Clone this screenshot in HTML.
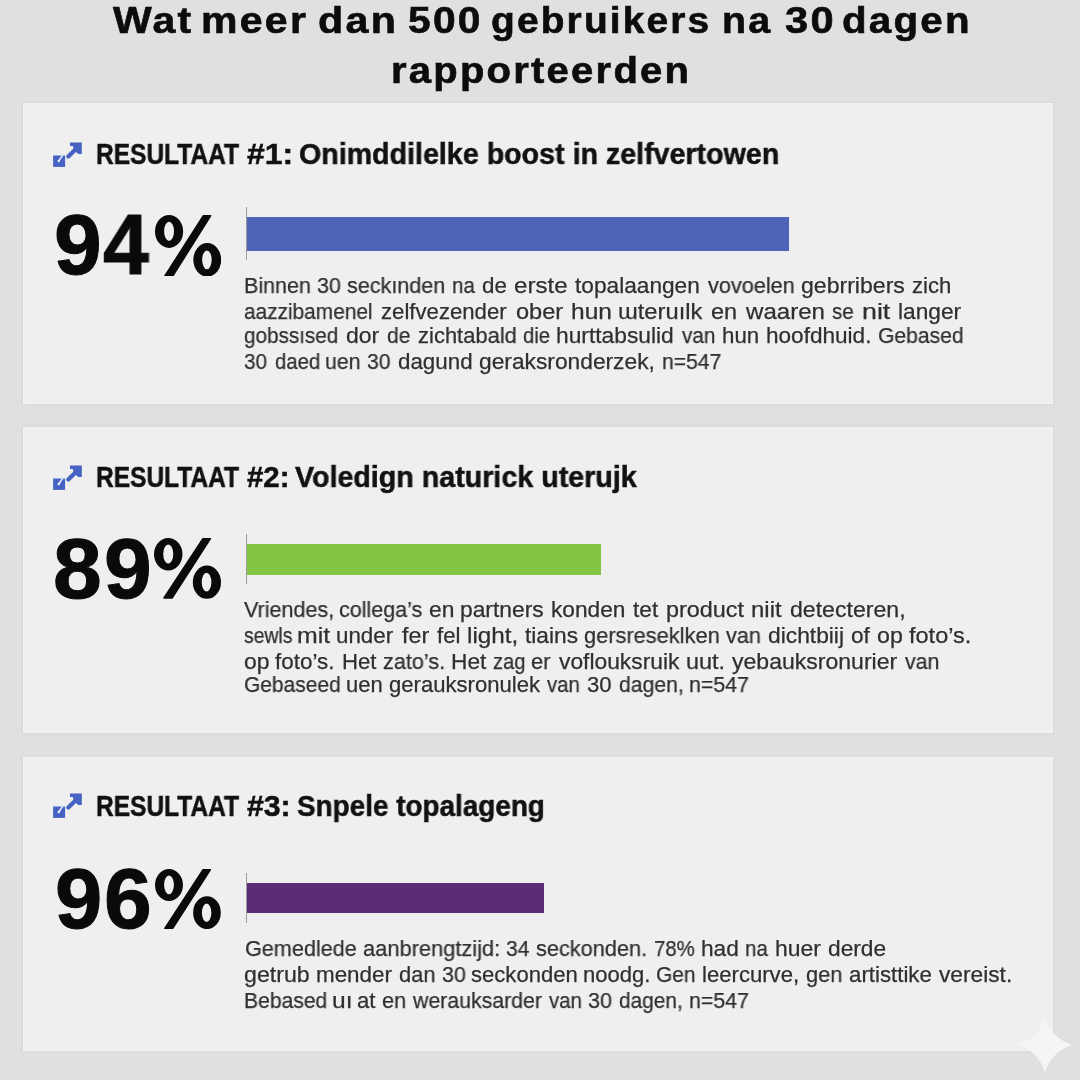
<!DOCTYPE html>
<html><head><meta charset="utf-8"><style>
html,body{margin:0;padding:0}
body{width:1080px;height:1080px;overflow:hidden;position:relative;background:#e0e0e0;
font-family:"Liberation Sans",sans-serif}
.t{position:absolute;white-space:nowrap;transform-origin:0 0;will-change:transform}
.card{position:absolute;left:23px;width:1030px;background:#efefef;box-shadow:0 0 2px 1px rgba(0,0,0,0.035),inset 0 0 2px 1px rgba(255,255,255,0.3)}
.ic{position:absolute}
.dv{position:absolute;left:245.5px;width:1.6px;background:#9c9c9c}
.bar{position:absolute;left:247px}
.pc{position:absolute}
.sp{position:absolute;left:1016.5px;top:1016.5px}
</style></head><body>
<div class="t" style="left:112.50px;top:2.93px;font-size:36px;line-height:36px;font-weight:700;color:#0c0c0c;transform:scaleX(1.1398);-webkit-text-stroke:0.6px #0c0c0c;letter-spacing:2.0px;">Wat</div>
<div class="t" style="left:201.33px;top:2.93px;font-size:36px;line-height:36px;font-weight:700;color:#0c0c0c;transform:scaleX(1.1395);-webkit-text-stroke:0.6px #0c0c0c;letter-spacing:2.0px;">meer</div>
<div class="t" style="left:317.75px;top:2.93px;font-size:36px;line-height:36px;font-weight:700;color:#0c0c0c;transform:scaleX(1.1446);-webkit-text-stroke:0.6px #0c0c0c;letter-spacing:2.0px;">dan</div>
<div class="t" style="left:408.18px;top:2.93px;font-size:36px;line-height:36px;font-weight:700;color:#0c0c0c;transform:scaleX(1.1316);-webkit-text-stroke:0.6px #0c0c0c;letter-spacing:2.0px;">500</div>
<div class="t" style="left:491.24px;top:2.93px;font-size:36px;line-height:36px;font-weight:700;color:#0c0c0c;transform:scaleX(1.0800);-webkit-text-stroke:0.6px #0c0c0c;letter-spacing:2.0px;">gebruikers</div>
<div class="t" style="left:721.84px;top:2.93px;font-size:36px;line-height:36px;font-weight:700;color:#0c0c0c;transform:scaleX(1.0939);-webkit-text-stroke:0.6px #0c0c0c;letter-spacing:2.0px;">na</div>
<div class="t" style="left:784.56px;top:2.93px;font-size:36px;line-height:36px;font-weight:700;color:#0c0c0c;transform:scaleX(1.1560);-webkit-text-stroke:0.6px #0c0c0c;letter-spacing:2.0px;">30</div>
<div class="t" style="left:842.29px;top:2.93px;font-size:36px;line-height:36px;font-weight:700;color:#0c0c0c;transform:scaleX(1.1194);-webkit-text-stroke:0.6px #0c0c0c;letter-spacing:2.0px;">dagen</div>
<div class="t" style="left:391.40px;top:53.13px;font-size:36px;line-height:36px;font-weight:700;color:#0c0c0c;transform:scaleX(1.1116);-webkit-text-stroke:0.6px #0c0c0c;letter-spacing:2.0px;">rapporteerden</div>
<div class="card" style="top:103px;height:301px"></div>
<svg class="ic" style="left:53px;top:142px" width="34" height="30" viewBox="0 0 34 30"><rect x="0.1" y="13.5" width="12" height="11.4" fill="#4662c2"/><path d="M9.6 13.3 L5.6 19.2" stroke="#dde6fa" stroke-width="1.7" stroke-linecap="round"/><circle cx="5.8" cy="19" r="1.2" fill="#eef2fc"/><path d="M15.3 14.6 L23 7" stroke="#4662c2" stroke-width="4.2" stroke-linecap="round"/><path d="M17 0.5 L28.8 0.5 L28.8 12.1 L25.4 12.1 L21 8.5 L19.8 4 L17 4 Z" fill="#4662c2"/></svg>
<div class="t" style="left:95.91px;top:139.95px;font-size:29px;line-height:29px;font-weight:700;color:#111;transform:scaleX(0.8448);-webkit-text-stroke:0.5px #111;">RESULTAAT</div>
<div class="t" style="left:246.52px;top:139.95px;font-size:29px;line-height:29px;font-weight:700;color:#111;transform:scaleX(1.0993);-webkit-text-stroke:0.5px #111;">#1:</div>
<div class="t" style="left:299.46px;top:139.95px;font-size:29px;line-height:29px;font-weight:700;color:#111;transform:scaleX(0.9869);-webkit-text-stroke:0.5px #111;">Onimddilelke boost in zelfvertowen</div>
<div class="t" style="left:53.70px;top:202.45px;font-size:85px;line-height:85px;font-weight:700;color:#0a0a0a;transform:scaleX(1.0091);-webkit-text-stroke:1px #0a0a0a;">9</div>
<div class="t" style="left:102.96px;top:202.45px;font-size:85px;line-height:85px;font-weight:700;color:#0a0a0a;transform:scaleX(0.9698);-webkit-text-stroke:1px #0a0a0a;">4</div>
<svg class="pc" style="left:154.6px;top:214.6px" width="66.20" height="61.70" viewBox="0 0 66.1 61.9" preserveAspectRatio="none"><path fill="#0a0a0a" fill-rule="evenodd" d="M0 16.5 A14.05 16.5 0 1 0 28.1 16.5 A14.05 16.5 0 1 0 0 16.5 Z M9.1 16.35 A4.95 9.65 0 1 0 19 16.35 A4.95 9.65 0 1 0 9.1 16.35 Z"/><path fill="#0a0a0a" fill-rule="evenodd" d="M38.3 45 A13.9 16.9 0 1 0 66.1 45 A13.9 16.9 0 1 0 38.3 45 Z M47.1 45 A4.75 9.5 0 1 0 56.6 45 A4.75 9.5 0 1 0 47.1 45 Z"/><path fill="#0a0a0a" stroke="#0a0a0a" stroke-width="1.6" stroke-linejoin="round" d="M9.9 61.1 L17.8 61.1 L55.5 0.8 L48.3 0.8 Z"/></svg>
<div class="dv" style="top:207px;height:53px"></div>
<div class="bar" style="top:217px;height:34px;width:542px;background:#4e64b8"></div>
<div class="t" style="left:243.88px;top:275.08px;font-size:22px;line-height:22px;color:#2f2f2f;-webkit-text-stroke:0.25px #2f2f2f;transform:scaleX(0.9764);">Binnen</div>
<div class="t" style="left:316.94px;top:275.08px;font-size:22px;line-height:22px;color:#2f2f2f;-webkit-text-stroke:0.25px #2f2f2f;transform:scaleX(0.9750);">30</div>
<div class="t" style="left:346.95px;top:275.08px;font-size:22px;line-height:22px;color:#2f2f2f;-webkit-text-stroke:0.25px #2f2f2f;transform:scaleX(0.9804);">seckınden</div>
<div class="t" style="left:451.56px;top:275.08px;font-size:22px;line-height:22px;color:#2f2f2f;-webkit-text-stroke:0.25px #2f2f2f;transform:scaleX(0.9352);">na</div>
<div class="t" style="left:481.91px;top:275.08px;font-size:22px;line-height:22px;color:#2f2f2f;-webkit-text-stroke:0.25px #2f2f2f;transform:scaleX(1.0155);">de</div>
<div class="t" style="left:513.94px;top:275.08px;font-size:22px;line-height:22px;color:#2f2f2f;-webkit-text-stroke:0.25px #2f2f2f;transform:scaleX(1.0943);">erste</div>
<div class="t" style="left:574.96px;top:275.08px;font-size:22px;line-height:22px;color:#2f2f2f;-webkit-text-stroke:0.25px #2f2f2f;transform:scaleX(1.0306);">topalaangen</div>
<div class="t" style="left:707.89px;top:275.08px;font-size:22px;line-height:22px;color:#2f2f2f;-webkit-text-stroke:0.25px #2f2f2f;transform:scaleX(0.9854);">vovoelen</div>
<div class="t" style="left:801.28px;top:275.08px;font-size:22px;line-height:22px;color:#2f2f2f;-webkit-text-stroke:0.25px #2f2f2f;transform:scaleX(1.0488);">gebrribers</div>
<div class="t" style="left:912.42px;top:275.08px;font-size:22px;line-height:22px;color:#2f2f2f;-webkit-text-stroke:0.25px #2f2f2f;transform:scaleX(1.0044);">zich</div>
<div class="t" style="left:244.17px;top:300.58px;font-size:22px;line-height:22px;color:#2f2f2f;-webkit-text-stroke:0.25px #2f2f2f;transform:scaleX(0.9466);">aazzibamenel</div>
<div class="t" style="left:380.51px;top:300.58px;font-size:22px;line-height:22px;color:#2f2f2f;-webkit-text-stroke:0.25px #2f2f2f;transform:scaleX(1.0071);">zelfvezender</div>
<div class="t" style="left:515.96px;top:300.58px;font-size:22px;line-height:22px;color:#2f2f2f;-webkit-text-stroke:0.25px #2f2f2f;transform:scaleX(1.0727);">ober</div>
<div class="t" style="left:570.78px;top:300.58px;font-size:22px;line-height:22px;color:#2f2f2f;-webkit-text-stroke:0.25px #2f2f2f;transform:scaleX(1.1141);">hun</div>
<div class="t" style="left:618.16px;top:300.58px;font-size:22px;line-height:22px;color:#2f2f2f;-webkit-text-stroke:0.25px #2f2f2f;transform:scaleX(1.0784);">ɯteruılk</div>
<div class="t" style="left:711.26px;top:300.58px;font-size:22px;line-height:22px;color:#2f2f2f;-webkit-text-stroke:0.25px #2f2f2f;transform:scaleX(1.0674);">en</div>
<div class="t" style="left:745.60px;top:300.58px;font-size:22px;line-height:22px;color:#2f2f2f;-webkit-text-stroke:0.25px #2f2f2f;transform:scaleX(1.0943);">waaren</div>
<div class="t" style="left:832.18px;top:300.58px;font-size:22px;line-height:22px;color:#2f2f2f;-webkit-text-stroke:0.25px #2f2f2f;transform:scaleX(0.9323);">se</div>
<div class="t" style="left:861.56px;top:300.58px;font-size:22px;line-height:22px;color:#2f2f2f;-webkit-text-stroke:0.25px #2f2f2f;transform:scaleX(1.2183);">nit</div>
<div class="t" style="left:897.92px;top:300.58px;font-size:22px;line-height:22px;color:#2f2f2f;-webkit-text-stroke:0.25px #2f2f2f;transform:scaleX(1.0322);">langer</div>
<div class="t" style="left:244.17px;top:324.98px;font-size:22px;line-height:22px;color:#2f2f2f;-webkit-text-stroke:0.25px #2f2f2f;transform:scaleX(0.9407);">gobssısed</div>
<div class="t" style="left:346.08px;top:324.98px;font-size:22px;line-height:22px;color:#2f2f2f;-webkit-text-stroke:0.25px #2f2f2f;transform:scaleX(1.0469);">dor</div>
<div class="t" style="left:387.46px;top:324.98px;font-size:22px;line-height:22px;color:#2f2f2f;-webkit-text-stroke:0.25px #2f2f2f;transform:scaleX(0.9579);">de</div>
<div class="t" style="left:418.02px;top:324.98px;font-size:22px;line-height:22px;color:#2f2f2f;-webkit-text-stroke:0.25px #2f2f2f;transform:scaleX(0.9980);">zichtabald</div>
<div class="t" style="left:522.69px;top:324.98px;font-size:22px;line-height:22px;color:#2f2f2f;-webkit-text-stroke:0.25px #2f2f2f;transform:scaleX(0.9236);">die</div>
<div class="t" style="left:556.31px;top:324.98px;font-size:22px;line-height:22px;color:#2f2f2f;-webkit-text-stroke:0.25px #2f2f2f;transform:scaleX(1.0355);">hurttabsulid</div>
<div class="t" style="left:681.60px;top:324.98px;font-size:22px;line-height:22px;color:#2f2f2f;-webkit-text-stroke:0.25px #2f2f2f;transform:scaleX(0.9416);">van</div>
<div class="t" style="left:721.74px;top:324.98px;font-size:22px;line-height:22px;color:#2f2f2f;-webkit-text-stroke:0.25px #2f2f2f;transform:scaleX(1.0131);">hun</div>
<div class="t" style="left:765.52px;top:324.98px;font-size:22px;line-height:22px;color:#2f2f2f;-webkit-text-stroke:0.25px #2f2f2f;transform:scaleX(1.0260);">hoofdhuid.</div>
<div class="t" style="left:877.54px;top:324.98px;font-size:22px;line-height:22px;color:#2f2f2f;-webkit-text-stroke:0.25px #2f2f2f;transform:scaleX(0.9598);">Gebased</div>
<div class="t" style="left:244.17px;top:350.58px;font-size:22px;line-height:22px;color:#2f2f2f;-webkit-text-stroke:0.25px #2f2f2f;transform:scaleX(0.9398);">30</div>
<div class="t" style="left:275.29px;top:350.58px;font-size:22px;line-height:22px;color:#2f2f2f;-webkit-text-stroke:0.25px #2f2f2f;transform:scaleX(0.9241);">daed</div>
<div class="t" style="left:325.42px;top:350.58px;font-size:22px;line-height:22px;color:#2f2f2f;-webkit-text-stroke:0.25px #2f2f2f;transform:scaleX(0.9654);">uen</div>
<div class="t" style="left:366.95px;top:350.58px;font-size:22px;line-height:22px;color:#2f2f2f;-webkit-text-stroke:0.25px #2f2f2f;transform:scaleX(0.9618);">30</div>
<div class="t" style="left:397.91px;top:350.58px;font-size:22px;line-height:22px;color:#2f2f2f;-webkit-text-stroke:0.25px #2f2f2f;transform:scaleX(1.0160);">dagund</div>
<div class="t" style="left:479.09px;top:350.58px;font-size:22px;line-height:22px;color:#2f2f2f;-webkit-text-stroke:0.25px #2f2f2f;transform:scaleX(1.0347);">geraksronderzek,</div>
<div class="t" style="left:661.53px;top:350.58px;font-size:22px;line-height:22px;color:#2f2f2f;-webkit-text-stroke:0.25px #2f2f2f;transform:scaleX(0.9614);">n=547</div>
<div class="card" style="top:427px;height:306px"></div>
<svg class="ic" style="left:53px;top:465px" width="34" height="30" viewBox="0 0 34 30"><rect x="0.1" y="13.5" width="12" height="11.4" fill="#4662c2"/><path d="M9.6 13.3 L5.6 19.2" stroke="#dde6fa" stroke-width="1.7" stroke-linecap="round"/><circle cx="5.8" cy="19" r="1.2" fill="#eef2fc"/><path d="M15.3 14.6 L23 7" stroke="#4662c2" stroke-width="4.2" stroke-linecap="round"/><path d="M17 0.5 L28.8 0.5 L28.8 12.1 L25.4 12.1 L21 8.5 L19.8 4 L17 4 Z" fill="#4662c2"/></svg>
<div class="t" style="left:95.91px;top:462.75px;font-size:29px;line-height:29px;font-weight:700;color:#111;transform:scaleX(0.8448);-webkit-text-stroke:0.5px #111;">RESULTAAT</div>
<div class="t" style="left:246.56px;top:462.75px;font-size:29px;line-height:29px;font-weight:700;color:#111;transform:scaleX(1.0137);-webkit-text-stroke:0.5px #111;">#2:</div>
<div class="t" style="left:295.46px;top:462.75px;font-size:29px;line-height:29px;font-weight:700;color:#111;transform:scaleX(0.9879);-webkit-text-stroke:0.5px #111;">Voledign naturick uterujk</div>
<div class="t" style="left:53.17px;top:525.65px;font-size:85px;line-height:85px;font-weight:700;color:#0a0a0a;transform:scaleX(1.0315);-webkit-text-stroke:1px #0a0a0a;">8</div>
<div class="t" style="left:103.70px;top:525.65px;font-size:85px;line-height:85px;font-weight:700;color:#0a0a0a;transform:scaleX(1.0091);-webkit-text-stroke:1px #0a0a0a;">9</div>
<svg class="pc" style="left:154.4px;top:537.8px" width="67.00" height="60.80" viewBox="0 0 66.1 61.9" preserveAspectRatio="none"><path fill="#0a0a0a" fill-rule="evenodd" d="M0 16.5 A14.05 16.5 0 1 0 28.1 16.5 A14.05 16.5 0 1 0 0 16.5 Z M9.1 16.35 A4.95 9.65 0 1 0 19 16.35 A4.95 9.65 0 1 0 9.1 16.35 Z"/><path fill="#0a0a0a" fill-rule="evenodd" d="M38.3 45 A13.9 16.9 0 1 0 66.1 45 A13.9 16.9 0 1 0 38.3 45 Z M47.1 45 A4.75 9.5 0 1 0 56.6 45 A4.75 9.5 0 1 0 47.1 45 Z"/><path fill="#0a0a0a" stroke="#0a0a0a" stroke-width="1.6" stroke-linejoin="round" d="M9.9 61.1 L17.8 61.1 L55.5 0.8 L48.3 0.8 Z"/></svg>
<div class="dv" style="top:534px;height:50px"></div>
<div class="bar" style="top:544px;height:31px;width:354px;background:#83c545"></div>
<div class="t" style="left:244.09px;top:598.88px;font-size:22px;line-height:22px;color:#2f2f2f;-webkit-text-stroke:0.25px #2f2f2f;transform:scaleX(0.9790);">Vriendes,</div>
<div class="t" style="left:339.14px;top:598.88px;font-size:22px;line-height:22px;color:#2f2f2f;-webkit-text-stroke:0.25px #2f2f2f;transform:scaleX(0.9773);">collega’s</div>
<div class="t" style="left:429.09px;top:598.88px;font-size:22px;line-height:22px;color:#2f2f2f;-webkit-text-stroke:0.25px #2f2f2f;transform:scaleX(1.0357);">en</div>
<div class="t" style="left:460.42px;top:598.88px;font-size:22px;line-height:22px;color:#2f2f2f;-webkit-text-stroke:0.25px #2f2f2f;transform:scaleX(1.0364);">partners</div>
<div class="t" style="left:550.92px;top:598.88px;font-size:22px;line-height:22px;color:#2f2f2f;-webkit-text-stroke:0.25px #2f2f2f;transform:scaleX(1.0317);">konden</div>
<div class="t" style="left:632.56px;top:598.88px;font-size:22px;line-height:22px;color:#2f2f2f;-webkit-text-stroke:0.25px #2f2f2f;transform:scaleX(1.0300);">tet</div>
<div class="t" style="left:665.58px;top:598.88px;font-size:22px;line-height:22px;color:#2f2f2f;-webkit-text-stroke:0.25px #2f2f2f;transform:scaleX(1.0636);">product</div>
<div class="t" style="left:750.94px;top:598.88px;font-size:22px;line-height:22px;color:#2f2f2f;-webkit-text-stroke:0.25px #2f2f2f;transform:scaleX(1.0902);">niit</div>
<div class="t" style="left:789.88px;top:598.88px;font-size:22px;line-height:22px;color:#2f2f2f;-webkit-text-stroke:0.25px #2f2f2f;transform:scaleX(1.0499);">detecteren,</div>
<div class="t" style="left:243.62px;top:624.78px;font-size:22px;line-height:22px;color:#2f2f2f;-webkit-text-stroke:0.25px #2f2f2f;transform:scaleX(0.8811);">sewls</div>
<div class="t" style="left:297.39px;top:624.78px;font-size:22px;line-height:22px;color:#2f2f2f;-webkit-text-stroke:0.25px #2f2f2f;transform:scaleX(1.1291);">mit</div>
<div class="t" style="left:336.45px;top:624.78px;font-size:22px;line-height:22px;color:#2f2f2f;-webkit-text-stroke:0.25px #2f2f2f;transform:scaleX(1.0156);">under</div>
<div class="t" style="left:401.85px;top:624.78px;font-size:22px;line-height:22px;color:#2f2f2f;-webkit-text-stroke:0.25px #2f2f2f;transform:scaleX(1.0573);">fer</div>
<div class="t" style="left:437.27px;top:624.78px;font-size:22px;line-height:22px;color:#2f2f2f;-webkit-text-stroke:0.25px #2f2f2f;transform:scaleX(1.0070);">fel</div>
<div class="t" style="left:467.32px;top:624.78px;font-size:22px;line-height:22px;color:#2f2f2f;-webkit-text-stroke:0.25px #2f2f2f;transform:scaleX(1.1039);">light,</div>
<div class="t" style="left:525.16px;top:624.78px;font-size:22px;line-height:22px;color:#2f2f2f;-webkit-text-stroke:0.25px #2f2f2f;transform:scaleX(1.0324);">tiains</div>
<div class="t" style="left:584.13px;top:624.78px;font-size:22px;line-height:22px;color:#2f2f2f;-webkit-text-stroke:0.25px #2f2f2f;transform:scaleX(0.9915);">gersreseklken</div>
<div class="t" style="left:725.99px;top:624.78px;font-size:22px;line-height:22px;color:#2f2f2f;-webkit-text-stroke:0.25px #2f2f2f;transform:scaleX(0.9829);">van</div>
<div class="t" style="left:768.39px;top:624.78px;font-size:22px;line-height:22px;color:#2f2f2f;-webkit-text-stroke:0.25px #2f2f2f;transform:scaleX(1.0357);">dichtbiij</div>
<div class="t" style="left:851.09px;top:624.78px;font-size:22px;line-height:22px;color:#2f2f2f;-webkit-text-stroke:0.25px #2f2f2f;transform:scaleX(1.0292);">of</div>
<div class="t" style="left:877.37px;top:624.78px;font-size:22px;line-height:22px;color:#2f2f2f;-webkit-text-stroke:0.25px #2f2f2f;transform:scaleX(1.0547);">op</div>
<div class="t" style="left:909.45px;top:624.78px;font-size:22px;line-height:22px;color:#2f2f2f;-webkit-text-stroke:0.25px #2f2f2f;transform:scaleX(1.0684);">foto’s.</div>
<div class="t" style="left:243.98px;top:650.68px;font-size:22px;line-height:22px;color:#2f2f2f;-webkit-text-stroke:0.25px #2f2f2f;transform:scaleX(1.0415);">op</div>
<div class="t" style="left:275.06px;top:650.68px;font-size:22px;line-height:22px;color:#2f2f2f;-webkit-text-stroke:0.25px #2f2f2f;transform:scaleX(1.0200);">foto’s.</div>
<div class="t" style="left:341.73px;top:650.68px;font-size:22px;line-height:22px;color:#2f2f2f;-webkit-text-stroke:0.25px #2f2f2f;transform:scaleX(1.0080);">Het</div>
<div class="t" style="left:382.93px;top:650.68px;font-size:22px;line-height:22px;color:#2f2f2f;-webkit-text-stroke:0.25px #2f2f2f;transform:scaleX(0.9854);">zato’s.</div>
<div class="t" style="left:451.08px;top:650.68px;font-size:22px;line-height:22px;color:#2f2f2f;-webkit-text-stroke:0.25px #2f2f2f;transform:scaleX(1.0328);">Het</div>
<div class="t" style="left:493.09px;top:650.68px;font-size:22px;line-height:22px;color:#2f2f2f;-webkit-text-stroke:0.25px #2f2f2f;transform:scaleX(0.9151);">zag</div>
<div class="t" style="left:531.33px;top:650.68px;font-size:22px;line-height:22px;color:#2f2f2f;-webkit-text-stroke:0.25px #2f2f2f;transform:scaleX(0.9912);">er</div>
<div class="t" style="left:559.19px;top:650.68px;font-size:22px;line-height:22px;color:#2f2f2f;-webkit-text-stroke:0.25px #2f2f2f;transform:scaleX(1.0366);">voflouksruik</div>
<div class="t" style="left:686.38px;top:650.68px;font-size:22px;line-height:22px;color:#2f2f2f;-webkit-text-stroke:0.25px #2f2f2f;transform:scaleX(1.0656);">uut.</div>
<div class="t" style="left:732.28px;top:650.68px;font-size:22px;line-height:22px;color:#2f2f2f;-webkit-text-stroke:0.25px #2f2f2f;transform:scaleX(1.0470);">yebauksronurier</div>
<div class="t" style="left:905.39px;top:650.68px;font-size:22px;line-height:22px;color:#2f2f2f;-webkit-text-stroke:0.25px #2f2f2f;transform:scaleX(0.9681);">van</div>
<div class="t" style="left:243.85px;top:674.48px;font-size:22px;line-height:22px;color:#2f2f2f;-webkit-text-stroke:0.25px #2f2f2f;transform:scaleX(0.9535);">Gebaseed</div>
<div class="t" style="left:346.19px;top:674.48px;font-size:22px;line-height:22px;color:#2f2f2f;-webkit-text-stroke:0.25px #2f2f2f;transform:scaleX(0.9890);">uen</div>
<div class="t" style="left:388.82px;top:674.48px;font-size:22px;line-height:22px;color:#2f2f2f;-webkit-text-stroke:0.25px #2f2f2f;transform:scaleX(1.0040);">gerauksronulek</div>
<div class="t" style="left:547.40px;top:674.48px;font-size:22px;line-height:22px;color:#2f2f2f;-webkit-text-stroke:0.25px #2f2f2f;transform:scaleX(0.9238);">van</div>
<div class="t" style="left:586.91px;top:674.48px;font-size:22px;line-height:22px;color:#2f2f2f;-webkit-text-stroke:0.25px #2f2f2f;transform:scaleX(1.0057);">30</div>
<div class="t" style="left:618.85px;top:674.48px;font-size:22px;line-height:22px;color:#2f2f2f;-webkit-text-stroke:0.25px #2f2f2f;transform:scaleX(0.9618);">dagen,</div>
<div class="t" style="left:689.31px;top:674.48px;font-size:22px;line-height:22px;color:#2f2f2f;-webkit-text-stroke:0.25px #2f2f2f;transform:scaleX(0.9715);">n=547</div>
<div class="card" style="top:757px;height:294px"></div>
<svg class="ic" style="left:53px;top:793px" width="34" height="30" viewBox="0 0 34 30"><rect x="0.1" y="13.5" width="12" height="11.4" fill="#4662c2"/><path d="M9.6 13.3 L5.6 19.2" stroke="#dde6fa" stroke-width="1.7" stroke-linecap="round"/><circle cx="5.8" cy="19" r="1.2" fill="#eef2fc"/><path d="M15.3 14.6 L23 7" stroke="#4662c2" stroke-width="4.2" stroke-linecap="round"/><path d="M17 0.5 L28.8 0.5 L28.8 12.1 L25.4 12.1 L21 8.5 L19.8 4 L17 4 Z" fill="#4662c2"/></svg>
<div class="t" style="left:95.91px;top:791.55px;font-size:29px;line-height:29px;font-weight:700;color:#111;transform:scaleX(0.8448);-webkit-text-stroke:0.5px #111;">RESULTAAT</div>
<div class="t" style="left:246.55px;top:791.55px;font-size:29px;line-height:29px;font-weight:700;color:#111;transform:scaleX(1.0423);-webkit-text-stroke:0.5px #111;">#3:</div>
<div class="t" style="left:296.96px;top:791.55px;font-size:29px;line-height:29px;font-weight:700;color:#111;transform:scaleX(0.9614);-webkit-text-stroke:0.5px #111;">Snpele topalageng</div>
<div class="t" style="left:54.53px;top:855.95px;font-size:85px;line-height:85px;font-weight:700;color:#0a0a0a;transform:scaleX(0.9994);-webkit-text-stroke:1px #0a0a0a;">9</div>
<div class="t" style="left:103.70px;top:855.95px;font-size:85px;line-height:85px;font-weight:700;color:#0a0a0a;transform:scaleX(1.0091);-webkit-text-stroke:1px #0a0a0a;">6</div>
<svg class="pc" style="left:155px;top:869.2px" width="65.80" height="60.10" viewBox="0 0 66.1 61.9" preserveAspectRatio="none"><path fill="#0a0a0a" fill-rule="evenodd" d="M0 16.5 A14.05 16.5 0 1 0 28.1 16.5 A14.05 16.5 0 1 0 0 16.5 Z M9.1 16.35 A4.95 9.65 0 1 0 19 16.35 A4.95 9.65 0 1 0 9.1 16.35 Z"/><path fill="#0a0a0a" fill-rule="evenodd" d="M38.3 45 A13.9 16.9 0 1 0 66.1 45 A13.9 16.9 0 1 0 38.3 45 Z M47.1 45 A4.75 9.5 0 1 0 56.6 45 A4.75 9.5 0 1 0 47.1 45 Z"/><path fill="#0a0a0a" stroke="#0a0a0a" stroke-width="1.6" stroke-linejoin="round" d="M9.9 61.1 L17.8 61.1 L55.5 0.8 L48.3 0.8 Z"/></svg>
<div class="dv" style="top:873px;height:50px"></div>
<div class="bar" style="top:883px;height:30px;width:297px;background:#5e2b76"></div>
<div class="t" style="left:244.52px;top:938.28px;font-size:22px;line-height:22px;color:#2f2f2f;-webkit-text-stroke:0.25px #2f2f2f;transform:scaleX(0.9825);">Gemedlede</div>
<div class="t" style="left:362.73px;top:938.28px;font-size:22px;line-height:22px;color:#2f2f2f;-webkit-text-stroke:0.25px #2f2f2f;transform:scaleX(0.9933);">aanbrengtzijd:</div>
<div class="t" style="left:506.26px;top:938.28px;font-size:22px;line-height:22px;color:#2f2f2f;-webkit-text-stroke:0.25px #2f2f2f;transform:scaleX(0.9572);">34</div>
<div class="t" style="left:536.05px;top:938.28px;font-size:22px;line-height:22px;color:#2f2f2f;-webkit-text-stroke:0.25px #2f2f2f;transform:scaleX(0.9865);">seckonden.</div>
<div class="t" style="left:654.48px;top:938.28px;font-size:22px;line-height:22px;color:#2f2f2f;-webkit-text-stroke:0.25px #2f2f2f;transform:scaleX(0.9233);">78%</div>
<div class="t" style="left:700.51px;top:938.28px;font-size:22px;line-height:22px;color:#2f2f2f;-webkit-text-stroke:0.25px #2f2f2f;transform:scaleX(1.0309);">had</div>
<div class="t" style="left:745.16px;top:938.28px;font-size:22px;line-height:22px;color:#2f2f2f;-webkit-text-stroke:0.25px #2f2f2f;transform:scaleX(0.9352);">na</div>
<div class="t" style="left:774.80px;top:938.28px;font-size:22px;line-height:22px;color:#2f2f2f;-webkit-text-stroke:0.25px #2f2f2f;transform:scaleX(1.0420);">huer</div>
<div class="t" style="left:828.39px;top:938.28px;font-size:22px;line-height:22px;color:#2f2f2f;-webkit-text-stroke:0.25px #2f2f2f;transform:scaleX(1.0324);">derde</div>
<div class="t" style="left:244.07px;top:963.68px;font-size:22px;line-height:22px;color:#2f2f2f;-webkit-text-stroke:0.25px #2f2f2f;transform:scaleX(1.0526);">getrub</div>
<div class="t" style="left:315.64px;top:963.68px;font-size:22px;line-height:22px;color:#2f2f2f;-webkit-text-stroke:0.25px #2f2f2f;transform:scaleX(1.0176);">mender</div>
<div class="t" style="left:398.53px;top:963.68px;font-size:22px;line-height:22px;color:#2f2f2f;-webkit-text-stroke:0.25px #2f2f2f;transform:scaleX(0.9936);">dan</div>
<div class="t" style="left:441.64px;top:963.68px;font-size:22px;line-height:22px;color:#2f2f2f;-webkit-text-stroke:0.25px #2f2f2f;transform:scaleX(0.9750);">30</div>
<div class="t" style="left:471.04px;top:963.68px;font-size:22px;line-height:22px;color:#2f2f2f;-webkit-text-stroke:0.25px #2f2f2f;transform:scaleX(1.0031);">seckonden</div>
<div class="t" style="left:583.17px;top:963.68px;font-size:22px;line-height:22px;color:#2f2f2f;-webkit-text-stroke:0.25px #2f2f2f;transform:scaleX(1.0016);">noodg.</div>
<div class="t" style="left:656.15px;top:963.68px;font-size:22px;line-height:22px;color:#2f2f2f;-webkit-text-stroke:0.25px #2f2f2f;transform:scaleX(0.9526);">Gen</div>
<div class="t" style="left:702.06px;top:963.68px;font-size:22px;line-height:22px;color:#2f2f2f;-webkit-text-stroke:0.25px #2f2f2f;transform:scaleX(1.0056);">leercurve,</div>
<div class="t" style="left:806.23px;top:963.68px;font-size:22px;line-height:22px;color:#2f2f2f;-webkit-text-stroke:0.25px #2f2f2f;transform:scaleX(0.9907);">gen</div>
<div class="t" style="left:848.51px;top:963.68px;font-size:22px;line-height:22px;color:#2f2f2f;-webkit-text-stroke:0.25px #2f2f2f;transform:scaleX(1.0116);">artisttike</div>
<div class="t" style="left:938.59px;top:963.68px;font-size:22px;line-height:22px;color:#2f2f2f;-webkit-text-stroke:0.25px #2f2f2f;transform:scaleX(1.0327);">vereist.</div>
<div class="t" style="left:244.31px;top:989.68px;font-size:22px;line-height:22px;color:#2f2f2f;-webkit-text-stroke:0.25px #2f2f2f;transform:scaleX(0.9581);">Bebased</div>
<div class="t" style="left:332.20px;top:989.68px;font-size:22px;line-height:22px;color:#2f2f2f;-webkit-text-stroke:0.25px #2f2f2f;transform:scaleX(1.1178);">uı</div>
<div class="t" style="left:357.11px;top:989.68px;font-size:22px;line-height:22px;color:#2f2f2f;-webkit-text-stroke:0.25px #2f2f2f;transform:scaleX(1.0075);">at</div>
<div class="t" style="left:382.33px;top:989.68px;font-size:22px;line-height:22px;color:#2f2f2f;-webkit-text-stroke:0.25px #2f2f2f;transform:scaleX(0.9860);">en</div>
<div class="t" style="left:413.30px;top:989.68px;font-size:22px;line-height:22px;color:#2f2f2f;-webkit-text-stroke:0.25px #2f2f2f;transform:scaleX(0.9670);">werauksarder</div>
<div class="t" style="left:549.10px;top:989.68px;font-size:22px;line-height:22px;color:#2f2f2f;-webkit-text-stroke:0.25px #2f2f2f;transform:scaleX(0.9268);">van</div>
<div class="t" style="left:588.34px;top:989.68px;font-size:22px;line-height:22px;color:#2f2f2f;-webkit-text-stroke:0.25px #2f2f2f;transform:scaleX(0.9794);">30</div>
<div class="t" style="left:619.17px;top:989.68px;font-size:22px;line-height:22px;color:#2f2f2f;-webkit-text-stroke:0.25px #2f2f2f;transform:scaleX(0.9463);">dagen,</div>
<div class="t" style="left:689.01px;top:989.68px;font-size:22px;line-height:22px;color:#2f2f2f;-webkit-text-stroke:0.25px #2f2f2f;transform:scaleX(0.9715);">n=547</div>
<svg class="sp" width="56" height="56" viewBox="-28 -28 56 56"><path d="M0 -27.5 Q6.5 -6.5 27.5 0 Q6.5 6.5 0 27.5 Q-6.5 6.5 -27.5 0 Q-6.5 -6.5 0 -27.5 Z" fill="#f5f5f5"/></svg>
</body></html>
